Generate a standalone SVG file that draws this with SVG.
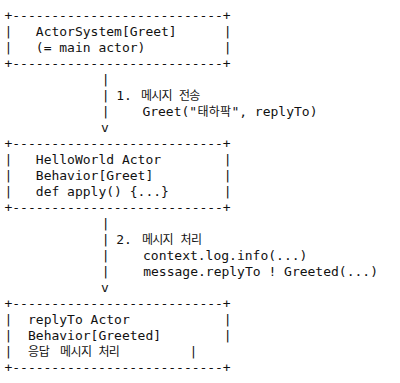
<svg xmlns="http://www.w3.org/2000/svg" width="400" height="383" viewBox="0 0 400 383">
<style>
text{font-family:"DejaVu Sans Mono","Liberation Mono",monospace;font-size:13px;fill:#111;white-space:pre;}
.ko{font-family:"Noto Sans CJK KR","Noto Sans CJK SC",sans-serif;font-size:12px;}
.c{text-anchor:middle;}
</style>
<rect width="400" height="383" fill="#fff"/>
<g id="actor-system">
<text x="4.5" y="20" textLength="226.2" lengthAdjust="spacing">+---------------------------+</text>
<text x="4.5" y="36" xml:space="preserve">|   ActorSystem[Greet]      |</text>
<text x="4.5" y="52" xml:space="preserve">|   (= main actor)          |</text>
<text x="4.5" y="68" textLength="226.2" lengthAdjust="spacing">+---------------------------+</text>
</g>
<g id="helloworld-actor">
<text x="4.5" y="148" textLength="226.2" lengthAdjust="spacing">+---------------------------+</text>
<text x="4.5" y="164" xml:space="preserve">|   HelloWorld Actor        |</text>
<text x="4.5" y="180" xml:space="preserve">|   Behavior[Greet]         |</text>
<text x="4.5" y="196" xml:space="preserve">|   def apply() {...}       |</text>
<text x="4.5" y="212" textLength="226.2" lengthAdjust="spacing">+---------------------------+</text>
</g>
<g id="replyto-actor">
<text x="4.5" y="308" textLength="226.2" lengthAdjust="spacing">+---------------------------+</text>
<text x="4.5" y="324" xml:space="preserve">|  replyTo Actor            |</text>
<text x="4.5" y="340" xml:space="preserve">|  Behavior[Greeted]        |</text>
<text x="4.5" y="356">|</text>
<text class="ko" x="28 38.8 60 70.5 81 98.5 108.8" y="356">응답메시지처리</text>
<text class="c" x="193.3" y="356">|</text>
<text x="4.5" y="372" textLength="226.2" lengthAdjust="spacing">+---------------------------+</text>
</g>
<g id="connectors">
<g id="send-greet">
<text class="c" x="105.7" y="84">|</text>
<text class="c" x="105.7" y="100">|</text>
<text class="c" x="105.7" y="116">|</text>
<text class="c" x="105" y="132">v</text>
<text x="116.3" y="100">1.</text>
<text class="ko" x="141 151.3 161.6 179 189.2" y="100">메시지전송</text>
<text x="142.4" y="116">Greet("</text>
<text class="ko" x="197.5 208.7 219.9" y="116">태하팍</text>
<text x="231.4" y="116" xml:space="preserve">", replyTo)</text>
</g>
<g id="handle-greet">
<text class="c" x="105.7" y="228">|</text>
<text class="c" x="105.7" y="244">|</text>
<text class="c" x="105.7" y="260">|</text>
<text class="c" x="105.7" y="276">|</text>
<text class="c" x="105" y="292">v</text>
<text x="116.3" y="244">2.</text>
<text class="ko" x="142 152.3 162.6 180.5 191" y="244">메시지처리</text>
<text x="143" y="260">context.log.info(...)</text>
<text x="143.2" y="276" xml:space="preserve">message.replyTo ! Greeted(...)</text>
</g>
</g>
</svg>
